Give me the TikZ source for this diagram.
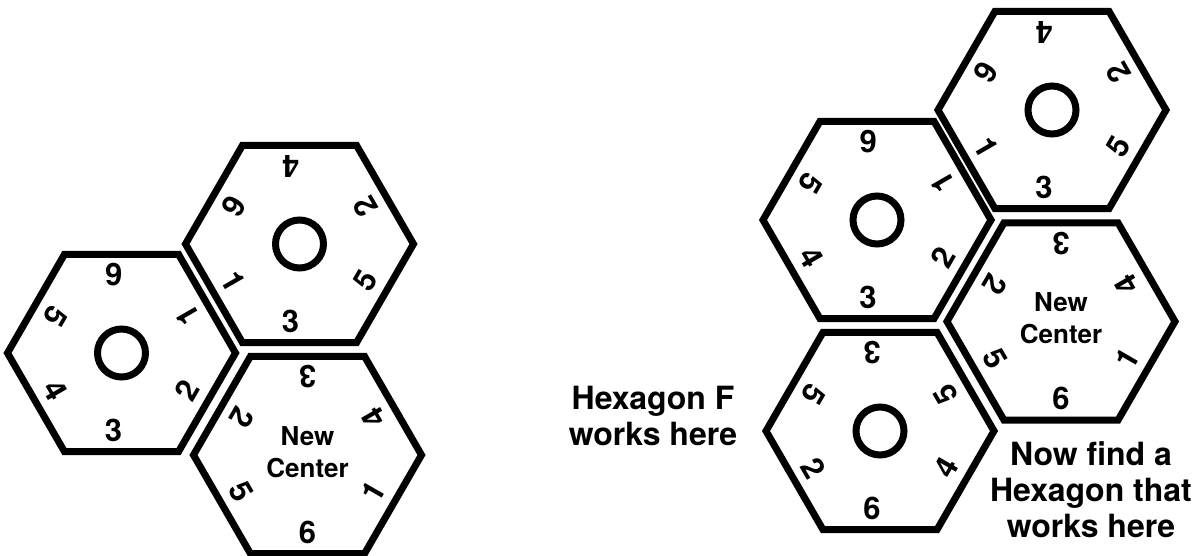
\documentclass[tikz,border=0pt]{standalone}
\usepackage{fontspec}
\setmainfont{TeX Gyre Heros}
\usetikzlibrary{calc}

\newcommand{\hexa}[3]{%
  \coordinate (#1) at (#2,#3);
  \draw[hexline] ($(#1)+(-114,0)$) -- ++(57,-98.7) -- ++(114,0) -- ++(57,98.7)
    -- ++(-57,98.7) -- ++(-114,0) -- cycle;}
\newcommand{\ring}[8]{%
  \node[num,rotate=180] (#1-t) at ($(#1)+(#2,-78)$) {#3};
  \node[num,rotate=120] (#1-ur) at ($(#1)+(66,-37)$) {#4};
  \node[num,rotate=60] (#1-lr) at ($(#1)+(66,37)$) {#5};
  \node[num] (#1-b) at ($(#1)+(#2,77)$) {#6};
  \node[num,rotate=-60] (#1-ll) at ($(#1)+(-66,37)$) {#7};
  \node[num,rotate=-120] (#1-ul) at ($(#1)+(-66,-37)$) {#8};}

\begin{document}
\begin{tikzpicture}[x=1pt,y=-1pt,
    hexline/.style={line width=7pt,line join=miter},
    num/.style={inner sep=0pt,font=\fontsize{31}{33}\selectfont\bfseries},
    hole/.style={draw,circle,line width=7pt,minimum size=48pt,inner sep=0pt},
    mid/.style={align=center,inner sep=0pt,font=\fontsize{26}{32}\selectfont\bfseries},
    lbl/.style={align=center,inner sep=0pt,font=\fontsize{32}{36}\selectfont\bfseries}]
  \useasboundingbox (0,0) rectangle (1195,556);
  \hexa{A}{121.5}{353}
  \hexa{B}{299.5}{244}
  \hexa{C}{307.5}{455}
  \ring{A}{-8}{6}{1}{2}{3}{4}{5}
  \ring{B}{-9}{4}{2}{5}{3}{1}{6}
  \ring{C}{0}{3}{4}{1}{6}{5}{2}
  \node[hole] (A-o) at (A) {};
  \node[hole] (B-o) at (B) {};
  \node[mid] (C-m) at ($(C)+(0,-3)$) {New\\Center};
  \hexa{D}{877}{220}
  \hexa{E}{880}{431}
  \hexa{F}{1052}{110}
  \hexa{G}{1061}{321.5}
  \ring{D}{-9}{6}{1}{2}{3}{4}{5}
  \ring{E}{-8}{3}{5}{4}{6}{2}{5}
  \ring{F}{-8}{4}{2}{5}{3}{1}{6}
  \ring{G}{0}{3}{4}{1}{6}{5}{2}
  \node[hole] (D-o) at (D) {};
  \node[hole] (E-o) at (E) {};
  \node[hole] (F-o) at (F) {};
  \node[mid] (G-m) at ($(G)+(0,-3)$) {New\\Center};
  \node[lbl] (fnote) at (653,416) {Hexagon F\\works here};
  \node[lbl] (gnote) at (1091,490) {Now find a\\Hexagon that\\works here};
\end{tikzpicture}
\end{document}
